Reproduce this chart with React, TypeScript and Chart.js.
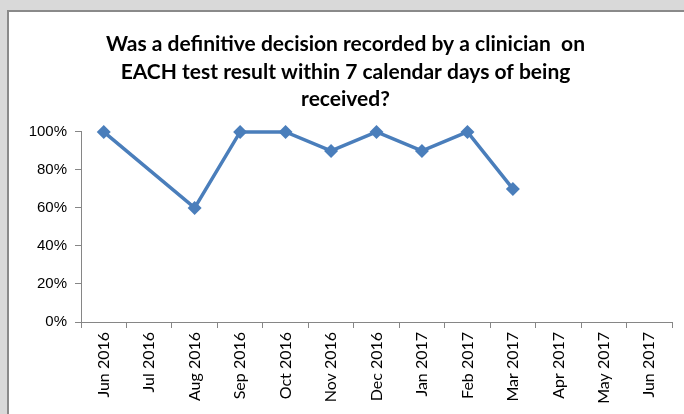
import React, { useEffect, useRef } from "react";
import { Chart, registerables } from "chart.js";

Chart.register(...registerables);

const titleLines = [
  "Was a definitive decision recorded by a clinician  on",
  "EACH test result within 7 calendar days of being",
  "received?",
];
const months = [
  "Jun 2016", "Jul 2016", "Aug 2016", "Sep 2016", "Oct 2016", "Nov 2016", "Dec 2016",
  "Jan 2017", "Feb 2017", "Mar 2017", "Apr 2017", "May 2017", "Jun 2017",
];
const decisionRate: (number | null)[] = [100, null, 60, 100, 100, 90, 100, 90, 100, 70, null, null, null];
const yTicks = [0, 20, 40, 60, 80, 100];

export default function App() {
  const ref = useRef<HTMLCanvasElement>(null);
  useEffect(() => {
    document.body.style.margin = "0";
    const ctx = ref.current!;
    const chart = new Chart(ctx, {
      type: "line",
      data: {
        labels: months,
        datasets: [
          {
            data: decisionRate,
            borderColor: "#4a7ebb",
            backgroundColor: "#4a7ebb",
            borderWidth: 3.5,
            pointStyle: "rectRot",
            pointRadius: 7,
            pointBorderWidth: 0,
            pointBackgroundColor: "#4a7ebb",
            spanGaps: true,
            tension: 0,
            clip: false,
          } as any,
        ],
      },
      options: {
        animation: false,
        responsive: false,
        maintainAspectRatio: false,
        layout: { padding: { left: 10, right: 12, top: 0, bottom: 0 } },
        plugins: {
          legend: { display: false },
          tooltip: { enabled: false },
          title: {
            display: true,
            text: titleLines,
            color: "#000",
            font: { family: "Lato", weight: "bold", size: 21, lineHeight: 1.3 },
            padding: { top: 19, bottom: 19 },
          },
        },
        scales: {
          x: {
            type: "category",
            offset: true,
            grid: {
              display: true,
              offset: true,
              drawOnChartArea: false,
              drawTicks: true,
              tickLength: 6,
              color: "#868686",
            },
            border: { display: true, color: "#868686", width: 1 },
            ticks: {
              autoSkip: false,
              minRotation: 90,
              maxRotation: 90,
              padding: 4,
              color: "#000",
              font: { family: "Lato", size: 16 },
            },
            afterFit: (s: any) => {
              s.height = 92;
            },
          },
          y: {
            min: 0,
            max: 100,
            afterBuildTicks: (s: any) => {
              s.ticks = yTicks.map((v) => ({ value: v }));
            },
            grid: {
              display: true,
              drawOnChartArea: false,
              drawTicks: true,
              tickLength: 6,
              color: "#868686",
            },
            border: { display: true, color: "#868686", width: 1 },
            ticks: {
              padding: 8,
              color: "#000",
              font: { family: "Liberation Sans", size: 15 },
              callback: (v: any) => v + "%",
            },
            afterFit: (s: any) => {
              s.width = 62;
            },
          },
        },
      },
    });
    return () => chart.destroy();
  }, []);
  return (
    <div style={{ position: "fixed", left: 0, top: 0, width: 684, height: 414, background: "#d9d9d9", overflow: "hidden" }}>
      <div
        style={{
          position: "absolute",
          left: 7,
          top: 10,
          width: 677,
          height: 404,
          background: "#fff",
          borderLeft: "2px solid #8a8a8a",
          borderTop: "2px solid #8a8a8a",
          boxSizing: "border-box",
        }}
      >
        <canvas ref={ref} width={675} height={402} style={{ display: "block" }} />
      </div>
    </div>
  );
}
